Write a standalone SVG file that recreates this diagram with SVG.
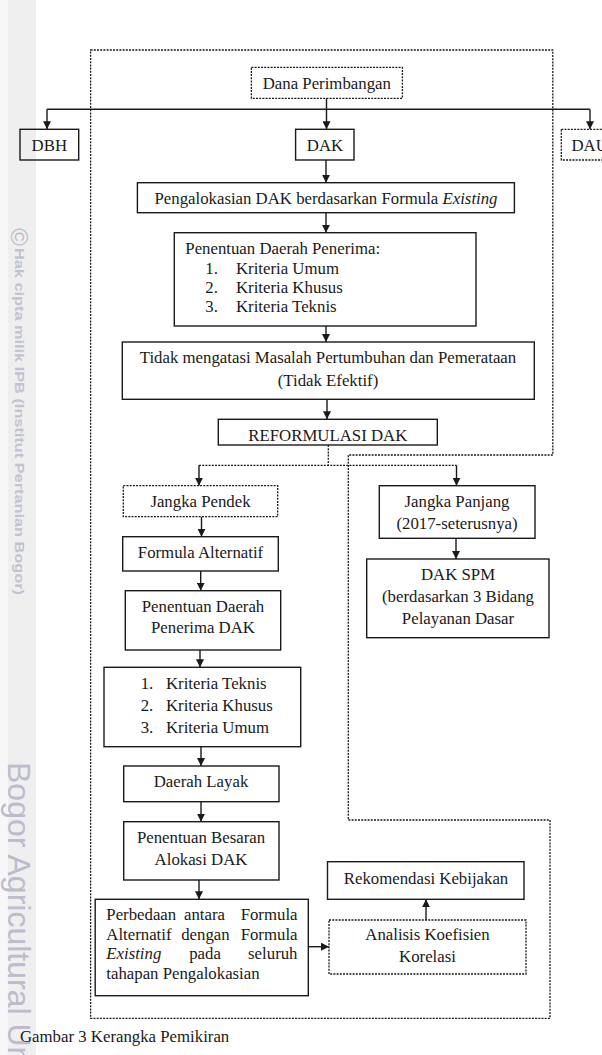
<svg xmlns="http://www.w3.org/2000/svg" width="602" height="1055" viewBox="0 0 602 1055">
<defs>
<style>
.t{font-family:"Liberation Serif","Times New Roman",serif;font-size:16.8px;fill:#1a1a1a}
.c{text-anchor:middle}
.b{fill:#fff;stroke:#1a1a1a;stroke-width:1.4}
.d{fill:#fff;stroke:#1a1a1a;stroke-width:1.3;stroke-dasharray:2 1.2}
.l{fill:none;stroke:#1a1a1a;stroke-width:1.4}
.ld{fill:none;stroke:#1a1a1a;stroke-width:1.3;stroke-dasharray:2 1.2}
.wm{font-family:"Liberation Sans",Arial,sans-serif;fill:#bcbccb}
</style>
<marker id="ah" viewBox="0 0 10 10" refX="10" refY="5" markerWidth="8" markerHeight="8" markerUnits="userSpaceOnUse" orient="auto">
<path d="M0,0 L10,5 L0,10 Z" fill="#1a1a1a"/>
</marker>
</defs>
<rect x="0" y="0" width="602" height="1055" fill="#fff"/>
<g id="watermark">
<rect x="0" y="0" width="8" height="1055" fill="#f7f7f7"/>
<rect x="8" y="0" width="28" height="1055" fill="#efefef"/>
<text class="wm" transform="translate(11,237) rotate(90)" font-size="24" text-anchor="middle">©</text>
<text class="wm" transform="translate(15,248) rotate(90)" font-size="13.5" font-weight="bold" style="fill:#c2c2d0" textLength="347" lengthAdjust="spacingAndGlyphs">Hak cipta milik IPB (Institut Pertanian Bogor)</text>
<text class="wm" transform="translate(8,762) rotate(90)" font-size="32">Bogor Agricultural University</text>
</g>
<g id="frame">
<polygon class="ld" points="90.6,50 552.8,50 552.8,455 348.3,455 348.3,820 550,820 550,1018.3 90.6,1018.3"/>
</g>
<g id="connectors">
<path class="l" d="M326.5,98 V109.3"/>
<path class="l" d="M47,109.3 H590"/>
<path class="l" d="M47,109.3 V129.3" marker-end="url(#ah)"/>
<path class="l" d="M326.5,109.3 V129.3" marker-end="url(#ah)"/>
<path class="l" d="M590,109.3 V129.3" marker-end="url(#ah)"/>
<path class="l" d="M326,160 V182.7" marker-end="url(#ah)"/>
<path class="l" d="M326,212.7 V232.7" marker-end="url(#ah)"/>
<path class="l" d="M326,326 V342" marker-end="url(#ah)"/>
<path class="l" d="M327,399.3 V419.3" marker-end="url(#ah)"/>
<path class="ld" d="M328.3,445 V465.3 M199,465.3 H456.5"/>
<path class="l" d="M199,465.3 V485.7" marker-end="url(#ah)"/>
<path class="l" d="M456.5,465.3 V485.7" marker-end="url(#ah)"/>
<path class="l" d="M201.5,516.7 V536.7" marker-end="url(#ah)"/>
<path class="l" d="M200.7,571 V590.7" marker-end="url(#ah)"/>
<path class="l" d="M456,538.3 V559" marker-end="url(#ah)"/>
<path class="l" d="M200,650 V667.3" marker-end="url(#ah)"/>
<path class="l" d="M201,746.7 V766" marker-end="url(#ah)"/>
<path class="l" d="M201,801.7 V821.7" marker-end="url(#ah)"/>
<path class="l" d="M199,880 V899.3" marker-end="url(#ah)"/>
<path class="l" d="M308.3,946.7 H329" marker-end="url(#ah)"/>
<path class="l" d="M426,920 V899.3" marker-end="url(#ah)"/>
</g>
<g id="dana-perimbangan">
<rect class="d" x="251.4" y="67.3" width="151" height="31"/>
<text class="t c" x="326.8" y="88.5">Dana Perimbangan</text>
</g>
<g id="dbh">
<rect class="b" x="20" y="129.3" width="58.7" height="30.7" style="fill:none"/>
<text class="t c" x="49.3" y="151">DBH</text>
</g>
<g id="dak">
<rect class="b" x="295.6" y="129.3" width="58.4" height="30.7"/>
<text class="t c" x="325" y="151">DAK</text>
</g>
<g id="dau">
<rect class="d" x="561.3" y="129.3" width="60" height="30.7"/>
<text class="t" x="571.5" y="151">DAU</text>
</g>
<g id="pengalokasian">
<rect class="b" x="137.4" y="182.7" width="377" height="30"/>
<text class="t c" x="326" y="203.5">Pengalokasian DAK berdasarkan Formula <tspan font-style="italic">Existing</tspan></text>
</g>
<g id="penentuan-daerah-penerima">
<rect class="b" x="174.3" y="232.7" width="301.7" height="93.3"/>
<text class="t" x="185.3" y="253.5">Penentuan Daerah Penerima:</text>
<text class="t" x="205.3" y="273.5">1.</text><text class="t" x="236" y="273.5">Kriteria Umum</text>
<text class="t" x="205.3" y="292.8">2.</text><text class="t" x="236" y="292.8">Kriteria Khusus</text>
<text class="t" x="205.3" y="312.2">3.</text><text class="t" x="236" y="312.2">Kriteria Teknis</text>
</g>
<g id="tidak-efektif">
<rect class="b" x="122.3" y="342" width="412" height="57.3"/>
<text class="t c" x="328" y="363">Tidak mengatasi Masalah Pertumbuhan dan Pemerataan</text>
<text class="t c" x="328" y="386">(Tidak Efektif)</text>
</g>
<g id="reformulasi">
<rect class="b" x="218.3" y="419.3" width="219" height="25.7"/>
<text class="t c" x="327.8" y="440.5">REFORMULASI DAK</text>
</g>
<g id="jangka-pendek">
<rect class="d" x="123.3" y="485.7" width="154.4" height="31"/>
<text class="t c" x="200.5" y="506.8">Jangka Pendek</text>
</g>
<g id="formula-alternatif">
<rect class="b" x="122.7" y="536.7" width="155.6" height="34.3"/>
<text class="t c" x="200.5" y="558.3">Formula Alternatif</text>
</g>
<g id="penentuan-daerah-penerima-dak">
<rect class="b" x="125.3" y="590.7" width="155.4" height="59.3"/>
<text class="t c" x="203" y="611.8">Penentuan Daerah</text>
<text class="t c" x="203" y="633.3">Penerima DAK</text>
</g>
<g id="kriteria">
<rect class="b" x="104" y="667.3" width="196.7" height="79.4"/>
<text class="t" x="140.7" y="688.5">1.</text><text class="t" x="166" y="688.5">Kriteria Teknis</text>
<text class="t" x="140.7" y="711.2">2.</text><text class="t" x="166" y="711.2">Kriteria Khusus</text>
<text class="t" x="140.7" y="733">3.</text><text class="t" x="166" y="733">Kriteria Umum</text>
</g>
<g id="daerah-layak">
<rect class="b" x="123.7" y="766" width="155.3" height="35.7"/>
<text class="t c" x="201" y="787">Daerah Layak</text>
</g>
<g id="penentuan-besaran">
<rect class="b" x="123.7" y="821.7" width="155.3" height="58.3"/>
<text class="t c" x="201" y="843.3">Penentuan Besaran</text>
<text class="t c" x="201" y="865.3">Alokasi DAK</text>
</g>
<g id="perbedaan">
<rect class="b" x="95.2" y="899.3" width="213.1" height="96.4"/>
<text class="t" x="106.3" y="920.3">Perbedaan</text><text class="t c" x="204.5" y="920.3">antara</text><text class="t" x="297.5" y="920.3" text-anchor="end">Formula</text>
<text class="t" x="106.3" y="939.6">Alternatif</text><text class="t c" x="205.4" y="939.6">dengan</text><text class="t" x="297.5" y="939.6" text-anchor="end">Formula</text>
<text class="t" x="106.3" y="958.8" font-style="italic">Existing</text><text class="t c" x="205" y="958.8">pada</text><text class="t" x="297.5" y="958.8" text-anchor="end">seluruh</text>
<text class="t" x="106.3" y="978.6">tahapan Pengalokasian</text>
</g>
<g id="jangka-panjang">
<rect class="b" x="379.3" y="485.7" width="155.7" height="52.6"/>
<text class="t c" x="457" y="506.8">Jangka Panjang</text>
<text class="t c" x="457" y="528.6">(2017-seterusnya)</text>
</g>
<g id="dak-spm">
<rect class="b" x="366.7" y="559" width="182.3" height="78.7"/>
<text class="t c" x="458" y="580.3">DAK SPM</text>
<text class="t c" x="458" y="602">(berdasarkan 3 Bidang</text>
<text class="t c" x="458" y="623.6">Pelayanan Dasar</text>
</g>
<g id="rekomendasi">
<rect class="b" x="327.5" y="861.7" width="196.5" height="37.6"/>
<text class="t c" x="426" y="883.6">Rekomendasi Kebijakan</text>
</g>
<g id="analisis">
<rect class="d" x="329" y="920" width="197" height="54"/>
<text class="t c" x="427.5" y="940.3">Analisis Koefisien</text>
<text class="t c" x="427.5" y="962">Korelasi</text>
</g>
<g id="caption">
<text class="t" x="20" y="1041.5" font-size="18.3">Gambar 3 Kerangka Pemikiran</text>
</g>
</svg>
